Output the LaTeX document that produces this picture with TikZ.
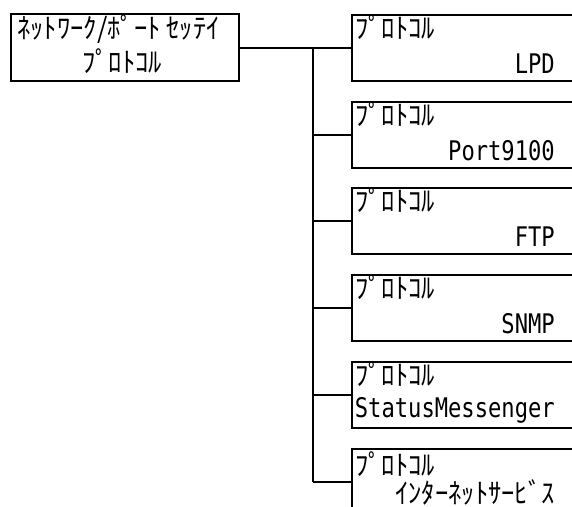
\documentclass[tikz,border=0pt]{standalone}
\usepackage{fontspec}
\newfontfamily\kana{Noto Sans CJK JP}[FakeStretch=0.95]
\newfontfamily\lat{DejaVu Sans Mono}[FakeStretch=0.82]
\begin{document}
\begin{tikzpicture}[x=1pt,y=-1pt,
  boxline/.style={draw=black,line width=2pt},
  rbox/.style={boxline,anchor=north west,minimum width=260pt,minimum height=66pt,inner sep=0pt},
  mbox/.style={boxline,minimum width=228pt,minimum height=67pt,inner sep=0pt},
  kt/.style={inner sep=0pt,font=\kana\fontsize{28}{28}\selectfont},
  lt/.style={inner sep=0pt,font=\lat\fontsize{27}{27}\selectfont},
  conn/.style={draw=black,line width=2pt}]
\useasboundingbox (0,0) rectangle (572,506);
\clip (0,0) rectangle (572,506);
\fill[white] (0,0) rectangle (572,506);
% main box
\node[mbox] (main) at (125,47.5) {};
\node[kt,anchor=base west] (m1) at (17,38) {ﾈｯﾄﾜｰｸ/ﾎﾟｰﾄ ｾｯﾃｲ};
\node[kt,anchor=base west] (m2) at (82,72) {ﾌﾟﾛﾄｺﾙ};
% right boxes
\node[rbox] (b1) at (351,14) {};
\node[rbox] (b2) at (351,101) {};
\node[rbox] (b3) at (351,187) {};
\node[rbox] (b4) at (351,274) {};
\node[rbox] (b5) at (351,361) {};
\node[rbox] (b6) at (351,448) {};
% texts
\node[kt,anchor=base west] (k1) at (355,38) {ﾌﾟﾛﾄｺﾙ};
\node[lt,anchor=base east] (l1) at (555,73) {LPD};
\node[kt,anchor=base west] (k2) at (355,125) {ﾌﾟﾛﾄｺﾙ};
\node[lt,anchor=base east] (l2) at (555,160) {Port9100};
\node[kt,anchor=base west] (k3) at (355,211) {ﾌﾟﾛﾄｺﾙ};
\node[lt,anchor=base east] (l3) at (555,246) {FTP};
\node[kt,anchor=base west] (k4) at (355,298) {ﾌﾟﾛﾄｺﾙ};
\node[lt,anchor=base east] (l4) at (555,333) {SNMP};
\node[kt,anchor=base west] (k5) at (355,385) {ﾌﾟﾛﾄｺﾙ};
\node[lt,anchor=base east] (l5) at (555,417) {StatusMessenger};
\node[kt,anchor=base west] (k6) at (355,475) {ﾌﾟﾛﾄｺﾙ};
\node[kt,anchor=base east] (l6) at (555,503) {ｲﾝﾀｰﾈｯﾄｻｰﾋﾞｽ};
% connectors
\coordinate (tr) at (313,0);
\draw[conn] (main.east) -- (main.east -| b1.west);
\draw[conn] (tr |- b1.west) -- (tr |- b6.west);
\foreach \b in {b2,b3,b4,b5,b6}{
  \draw[conn] (tr |- \b.west) -- (\b.west);
}
\end{tikzpicture}
\end{document}
